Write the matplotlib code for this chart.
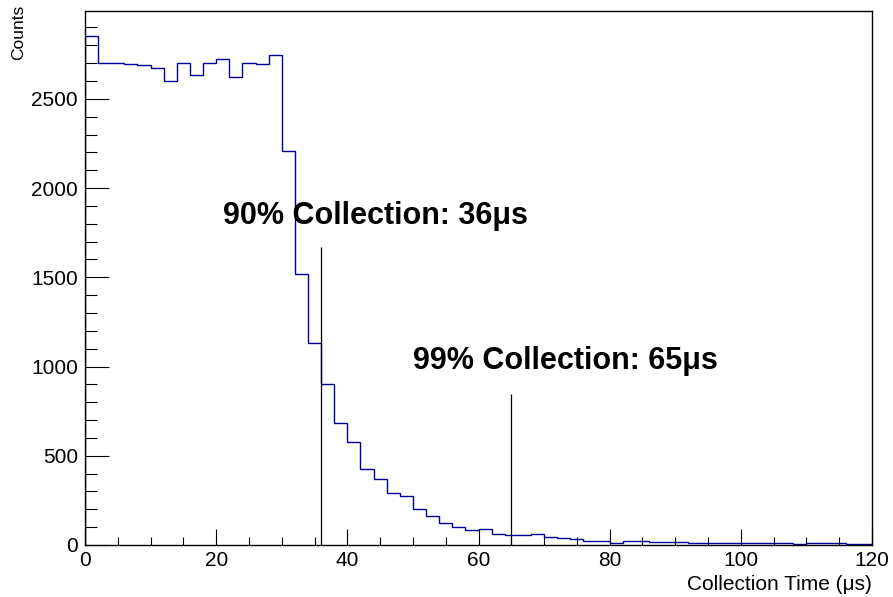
import numpy as np
import matplotlib
matplotlib.use("Agg")
import matplotlib.pyplot as plt
from matplotlib.ticker import MultipleLocator

plt.rcParams['font.family'] = ['Liberation Sans', 'DejaVu Sans']

# histogram: 60 bins of 2 us from 0 to 120
bin_edges = np.arange(0, 122, 2)
counts = [2850, 2700, 2700, 2694, 2687, 2675, 2597, 2700, 2636, 2700,
          2722, 2621, 2700, 2696, 2745, 2205, 1519, 1134, 902, 681,
          579, 428, 367, 290, 275, 204, 163, 125, 99, 82,
          92, 64, 56, 56, 62, 43, 37, 35, 22, 22,
          13, 22, 24, 17, 15, 15, 14, 13, 13, 9,
          9, 9, 9, 9, 8, 12, 12, 9, 8, 4]

# collection markers
mark_x = [36, 65]
mark_top = [1670, 846]
mark_text = ["90% Collection: 36\u03bcs", "99% Collection: 65\u03bcs"]
text_pos = [(21, 1800), (50, 985)]

fig = plt.figure(figsize=(8.93, 5.97), dpi=100)
ax = fig.add_axes([85/893, 1-545/597, (872-85)/893, (545-11)/597])

ax.stairs(counts, bin_edges, color='#000099', linewidth=1.0)
ax.vlines(mark_x, 0, mark_top, color='black', linewidth=0.9)
for (tx, ty), s in zip(text_pos, mark_text):
    ax.text(tx, ty, s, fontsize=22, fontweight='bold', va='baseline', ha='left')

ax.set_xlim(0, 120)
ax.set_ylim(0, 2992)

ax.xaxis.set_major_locator(MultipleLocator(20))
ax.xaxis.set_minor_locator(MultipleLocator(5))
ax.yaxis.set_major_locator(MultipleLocator(500))
ax.yaxis.set_minor_locator(MultipleLocator(100))

ax.tick_params(axis='x', which='major', direction='in', length=11.5, width=0.8, labelsize=15, pad=4)
ax.tick_params(axis='x', which='minor', direction='in', length=5.8, width=0.8)
ax.tick_params(axis='y', which='major', direction='in', length=17, width=0.8, labelsize=15, pad=5)
ax.tick_params(axis='y', which='minor', direction='in', length=8.6, width=0.8)

for sp in ax.spines.values():
    sp.set_linewidth(1.0)

fig.text(872/893, 1-590/597, "Collection Time (\u03bcs)", fontsize=15, ha='right', va='baseline')
fig.text(19/893, 1-5/597, "Counts", fontsize=12.5, rotation=90, ha='center', va='top')

fig.savefig("out.png", dpi=100)
